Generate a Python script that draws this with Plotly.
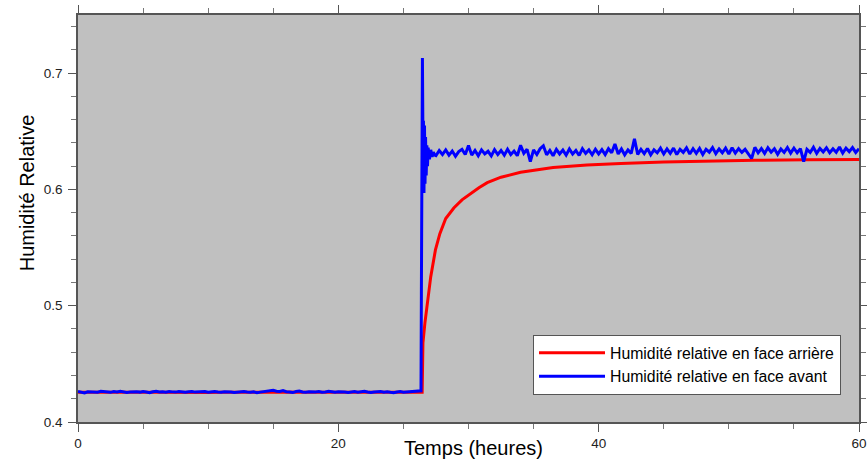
import plotly.graph_objects as go

# ---------------- data ----------------
# Front face (blue): before the step, sampled every 0.25 h from 0 to 26.25 h
blue_pre_t = [round(0.25 * i, 2) for i in range(106)]
blue_pre_v = [
    0.4262, 0.4255, 0.4250, 0.4260, 0.4258, 0.4262, 0.4256, 0.4264, 0.4260, 0.4258,
    0.4255, 0.4262, 0.4259, 0.4265, 0.4260, 0.4254, 0.4258, 0.4262, 0.4260, 0.4257,
    0.4263, 0.4258, 0.4252, 0.4260, 0.4265, 0.4258, 0.4261, 0.4256, 0.4263, 0.4259,
    0.4257, 0.4262, 0.4258, 0.4255, 0.4260, 0.4263, 0.4257, 0.4260, 0.4258, 0.4262,
    0.4256, 0.4259, 0.4263, 0.4258, 0.4255, 0.4260, 0.4262, 0.4258, 0.4253, 0.4256,
    0.4260, 0.4262, 0.4258, 0.4255, 0.4259, 0.4252, 0.4257, 0.4262, 0.4266, 0.4268,
    0.4272, 0.4265, 0.4262, 0.4270, 0.4260, 0.4258, 0.4253, 0.4262, 0.4266, 0.4258,
    0.4255, 0.4260, 0.4257, 0.4259, 0.4262, 0.4256, 0.4258, 0.4264, 0.4260, 0.4256,
    0.4260, 0.4262, 0.4258, 0.4254, 0.4259, 0.4262, 0.4257, 0.4260, 0.4265, 0.4258,
    0.4253, 0.4257, 0.4260, 0.4262, 0.4256, 0.4259, 0.4255, 0.4252, 0.4258, 0.4262,
    0.4256, 0.4259, 0.4257, 0.4261, 0.4263, 0.4265,
]
# Front face: the step and its oscillation
blue_step_t = [26.35, 26.38, 26.42, 26.46, 26.5, 26.54, 26.58, 26.62, 26.66, 26.7,
               26.75, 26.8, 26.85, 26.9, 27.0, 27.1, 27.2, 27.3, 27.4]
blue_step_v = [0.4268, 0.5100, 0.6400, 0.7130, 0.6450, 0.6590, 0.5970, 0.6550, 0.6050, 0.6450,
               0.6120, 0.6380, 0.6200, 0.6360, 0.6260, 0.6340, 0.6280, 0.6320, 0.6295]
# Front face: after the step, sampled every 0.25 h from 27.5 to 60 h
blue_post_t = [round(27.5 + 0.25 * i, 2) for i in range(131)]
blue_post_v = [
    0.6290, 0.6335, 0.6300, 0.6340, 0.6295, 0.6330, 0.6285, 0.6325, 0.6345, 0.6300,
    0.6378, 0.6295, 0.6335, 0.6290, 0.6340, 0.6305, 0.6328, 0.6288, 0.6342, 0.6300,
    0.6335, 0.6295, 0.6345, 0.6300, 0.6330, 0.6290, 0.6380, 0.6310, 0.6345, 0.6240,
    0.6340, 0.6300, 0.6350, 0.6375, 0.6298, 0.6335, 0.6290, 0.6345, 0.6305, 0.6338,
    0.6295, 0.6348, 0.6305, 0.6335, 0.6292, 0.6350, 0.6310, 0.6340, 0.6298, 0.6345,
    0.6305, 0.6342, 0.6300, 0.6350, 0.6315, 0.6390, 0.6305, 0.6348, 0.6298, 0.6340,
    0.6310, 0.6435, 0.6300, 0.6345, 0.6308, 0.6352, 0.6298, 0.6340, 0.6315, 0.6355,
    0.6305, 0.6348, 0.6310, 0.6355, 0.6300, 0.6345, 0.6318, 0.6358, 0.6305, 0.6350,
    0.6310, 0.6352, 0.6300, 0.6345, 0.6320, 0.6360, 0.6308, 0.6348, 0.6315, 0.6355,
    0.6305, 0.6358, 0.6312, 0.6350, 0.6318, 0.6345, 0.6305, 0.6266, 0.6362, 0.6315,
    0.6352, 0.6310, 0.6358, 0.6320, 0.6350, 0.6302, 0.6348, 0.6318, 0.6360, 0.6312,
    0.6355, 0.6315, 0.6350, 0.6240, 0.6345, 0.6318, 0.6362, 0.6310, 0.6352, 0.6322,
    0.6358, 0.6315, 0.6350, 0.6320, 0.6365, 0.6312, 0.6355, 0.6325, 0.6360, 0.6318,
    0.6350,
]

# Rear face (red)
red_t = [0, 1, 2, 3, 4, 5, 6, 7, 8, 9, 10, 11, 12, 13, 14, 15, 16, 17, 18, 19, 20,
         21, 22, 23, 24, 25, 26, 26.44, 26.5, 26.65, 26.82, 27.1, 27.46, 27.8, 28.25,
         28.87, 29.5, 30.15, 30.8, 31.44, 32.5, 34, 36.5, 39.1, 41.7, 45, 48, 52, 56, 60]
red_v = [0.4255, 0.4254, 0.4256, 0.4255, 0.4253, 0.4255, 0.4256, 0.4254, 0.4255, 0.4256,
         0.4254, 0.4255, 0.4256, 0.4257, 0.4258, 0.4260, 0.4257, 0.4255, 0.4254, 0.4256,
         0.4255, 0.4254, 0.4255, 0.4256, 0.4254, 0.4255, 0.4256, 0.4256, 0.4680, 0.4850,
         0.4990, 0.5250, 0.5480, 0.5620, 0.5750, 0.5840, 0.5910, 0.5963, 0.6015, 0.6058,
         0.6105, 0.6148, 0.6188, 0.6210, 0.6224, 0.6235, 0.6243, 0.6250, 0.6255, 0.6258]

x_tickvals = [0, 20, 40, 60]
y_tickvals = [0.4, 0.5, 0.6, 0.7]

name_red = "Humidité relative en face arrière"
name_blue = "Humidité relative en face avant"
x_title = "Temps (heures)"
y_title = "Humidité Relative"

FONT = "Liberation Sans, Arial, sans-serif"

# ---------------- figure ----------------
fig = go.Figure()
fig.add_trace(go.Scatter(x=red_t, y=red_v, mode="lines", name=name_red,
                         line=dict(color="#FF0000", width=3)))
fig.add_trace(go.Scatter(x=blue_pre_t + blue_step_t + blue_post_t,
                         y=blue_pre_v + blue_step_v + blue_post_v,
                         mode="lines", name=name_blue,
                         line=dict(color="#0000FF", width=3)))

axis_common = dict(
    showgrid=False, zeroline=False, showline=True, linecolor="#555555", linewidth=1.5,
    mirror="ticks", ticks="outside", ticklen=8, tickwidth=1, tickcolor="#555555",
    automargin=False,
    tickfont=dict(family=FONT, size=13.5, color="#222222"),
)

fig.update_xaxes(range=[0, 60], tickvals=x_tickvals, ticktext=[str(v) for v in x_tickvals],
                 minor=dict(dtick=5, ticks="outside", ticklen=5, tickcolor="#777777"),
                 **axis_common)
fig.update_yaxes(range=[0.4, 0.75], tickvals=y_tickvals, ticktext=[str(v) for v in y_tickvals],
                 minor=dict(dtick=0.02, tick0=0.4, ticks="outside", ticklen=5, tickcolor="#777777"),
                 ticklabelstandoff=3,
                 **axis_common)

fig.add_annotation(text=x_title, xref="paper", yref="paper", x=0.507, y=-0.064,
                   xanchor="center", yanchor="middle", showarrow=False,
                   font=dict(family=FONT, size=20, color="#000000"))
fig.add_annotation(text=y_title, xref="paper", yref="paper", x=-0.066, y=0.563,
                   xanchor="center", yanchor="middle", showarrow=False, textangle=-90,
                   font=dict(family=FONT, size=20, color="#000000"))

fig.update_layout(
    width=867, height=462,
    margin=dict(l=78, r=8, t=15, b=40),
    paper_bgcolor="#FFFFFF", plot_bgcolor="#C0C0C0",
    showlegend=True,
    legend=dict(x=0.5826, y=0.2138, xanchor="left", yanchor="top",
                bgcolor="#FFFFFF", bordercolor="#555555", borderwidth=1,
                font=dict(family=FONT, size=15.8, color="#000000"),
                tracegroupgap=0, itemwidth=66),
)

fig.write_html("out.html", config={"displayModeBar": False},
               post_script="document.body.style.margin='0';document.body.style.overflow='hidden';")
